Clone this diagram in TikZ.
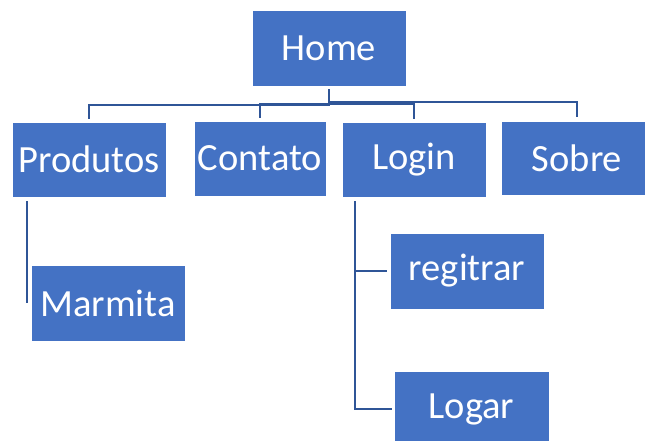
\documentclass[tikz,border=0pt]{standalone}
\usepackage{fontspec}
\setmainfont{Carlito}
\definecolor{boxblue}{HTML}{4472C4}
\definecolor{linkblue}{HTML}{2F5597}
\begin{document}
\begin{tikzpicture}[x=1pt,y=-1pt,
  box/.style={fill=boxblue,draw=white,line width=0.6pt,text=white,inner sep=0pt,
    font=\fontsize{38.5}{46}\selectfont},
  link/.style={draw=linkblue,line width=2pt}]
\fill[white] (0,0) rectangle (645,441);
\useasboundingbox (0,0) rectangle (645,441);
\node[box,minimum width=154pt,minimum height=76pt] (home) at (329,48) {Home};
\node[box,minimum width=154pt,minimum height=75pt] (prod) at (89,159.5) {Produtos};
\node[box,minimum width=132pt,minimum height=75pt] (cont) at (260,158.5) {Contato};
\node[box,minimum width=144pt,minimum height=75pt] (login) at (414,159.5) {Login};
\node[box,minimum width=152pt,minimum height=74pt] (sobre) at (577,158) {Sobre};
\node[box,minimum width=154pt,minimum height=76pt] (marm) at (108,303) {Marmita};
\node[box,minimum width=154pt,minimum height=76pt] (reg) at (467,271) {regitrar};
\node[box,minimum width=155pt,minimum height=76pt] (logar) at (471.5,409) {Logar};
% Home to children
\draw[link] ([yshift=-3pt]home.south) -- ++(0,16) -| ([yshift=3pt]prod.north);
\draw[link] ([yshift=-3pt]home.south) -- ++(0,15) -| ([yshift=3pt]cont.north);
\draw[link] ([yshift=-3pt]home.south) -- ++(0,15) -| ([yshift=3pt]login.north);
\draw[link] ([yshift=-3pt]home.south) -- ++(0,13) -| ([yshift=4pt]sobre.north);
% Produtos to Marmita
\draw[link] ([xshift=15pt,yshift=-4pt]prod.south west) -- ([xshift=-4pt]marm.west);
% Login to children
\draw[link] ([xshift=13pt,yshift=-4pt]login.south west) |- ([xshift=-3pt]reg.west);
\draw[link] ([xshift=13pt,yshift=-4pt]login.south west) |- ([xshift=-2pt]logar.west);
\end{tikzpicture}
\end{document}
